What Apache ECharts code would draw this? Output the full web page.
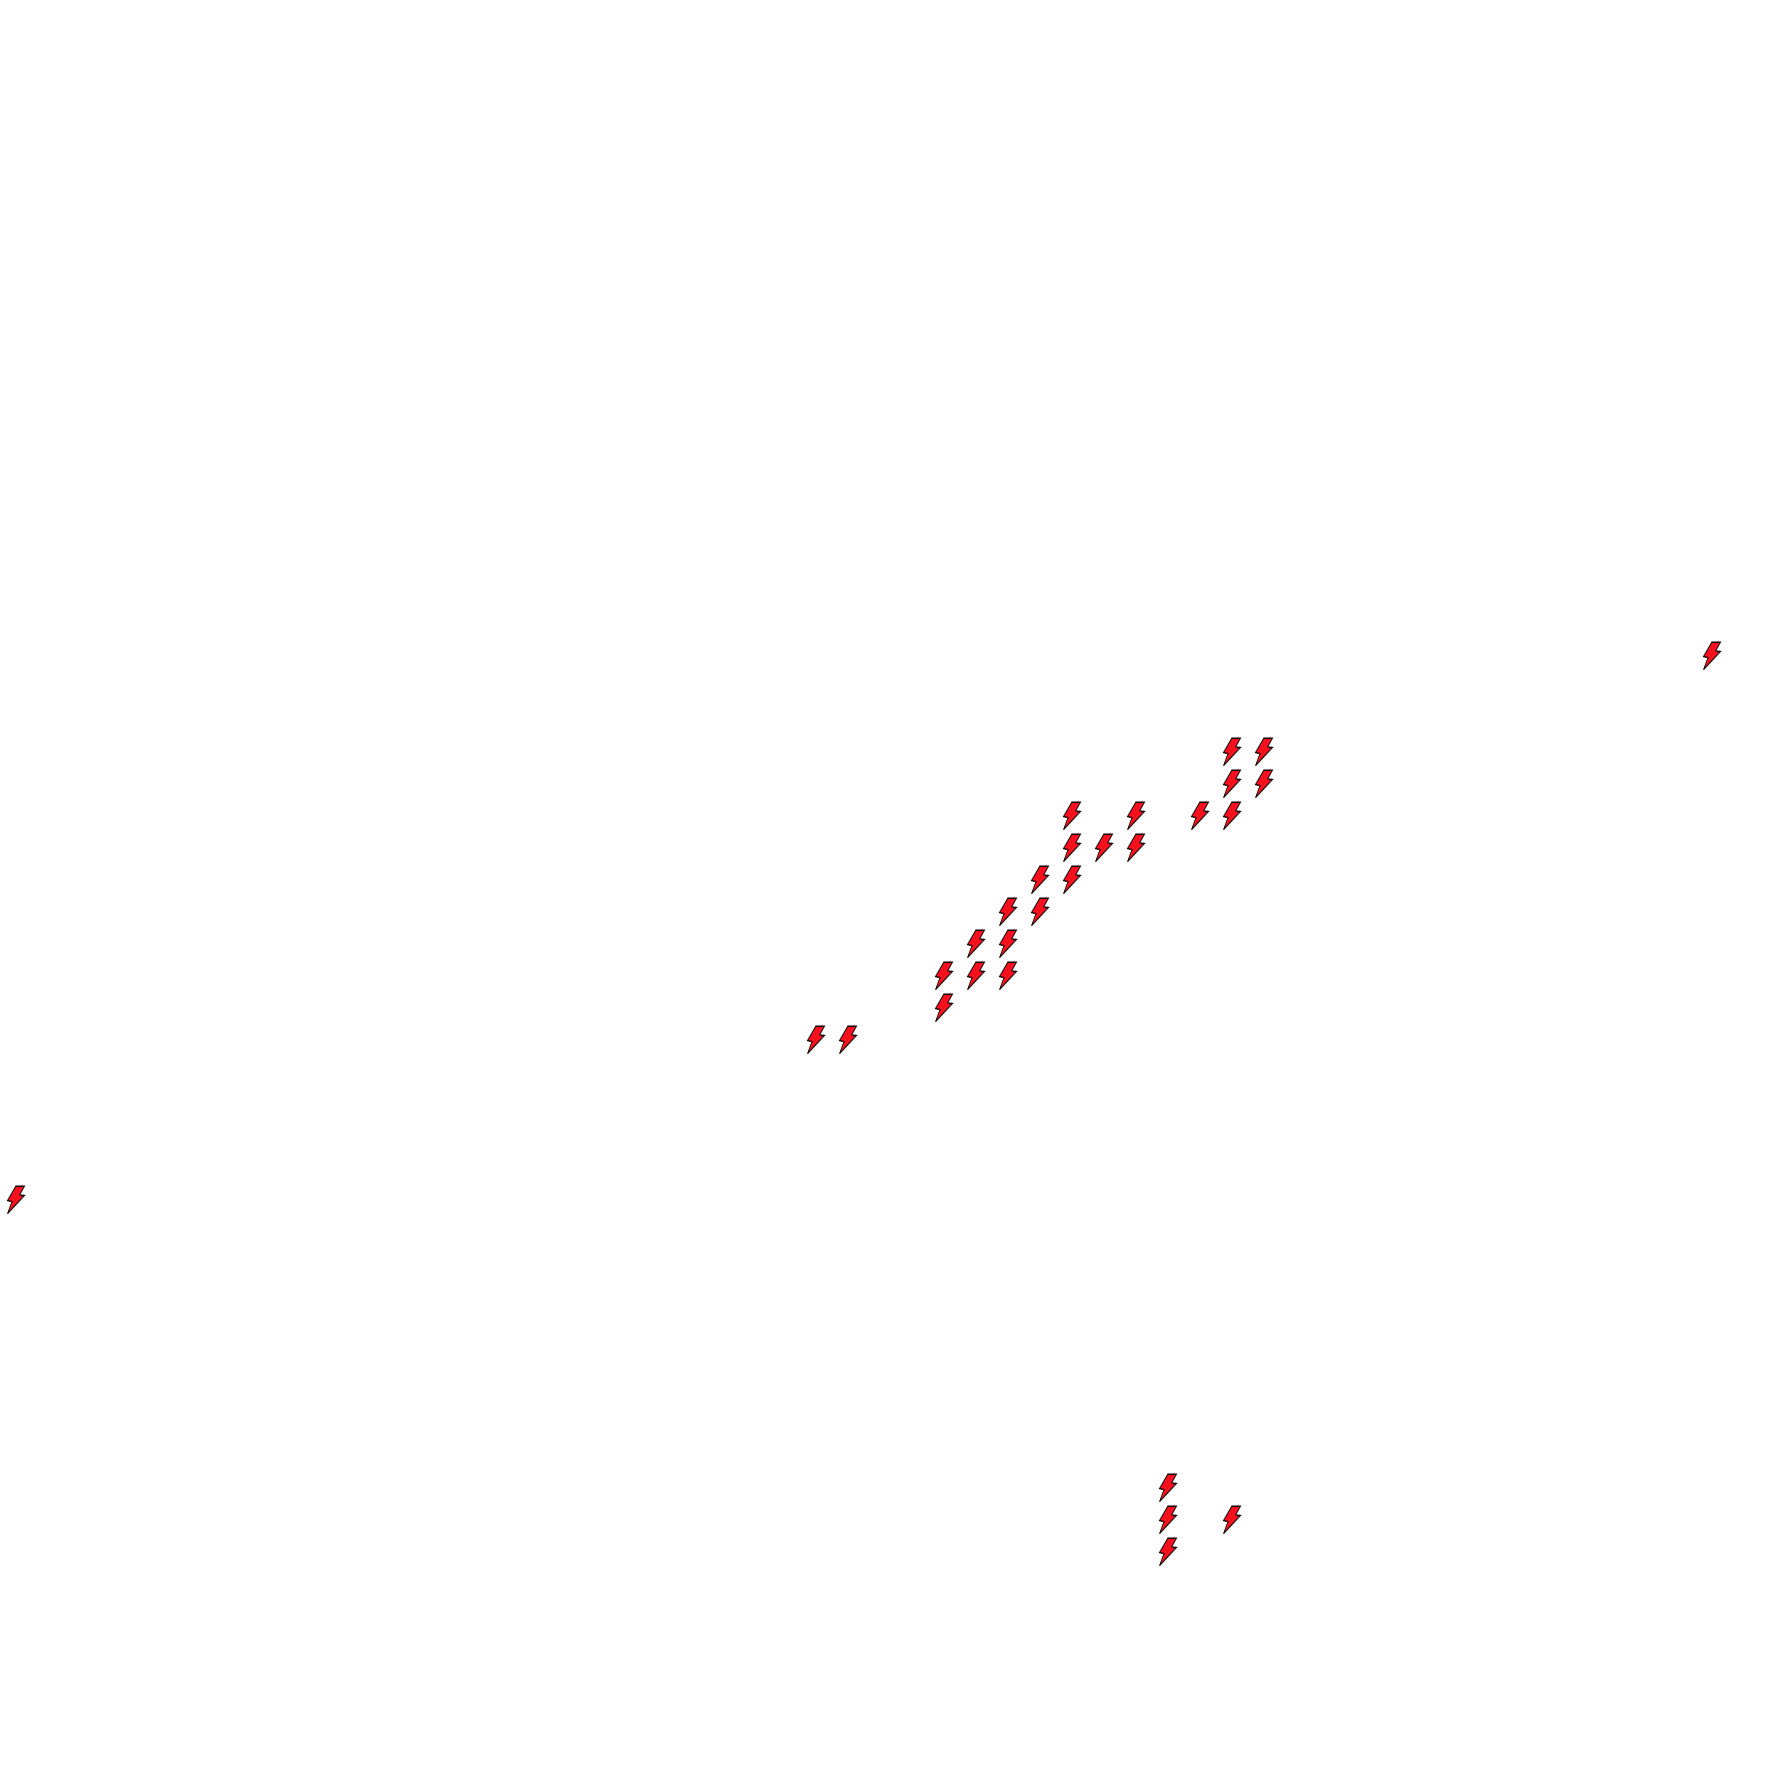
<!DOCTYPE html>
<html>
<head>
<meta charset="utf-8">
<title>Lightning markers</title>
<style>html,body{margin:0;padding:0;background:#fff}#c{width:1792px;height:1792px}</style>
<script src="https://cdn.jsdelivr.net/npm/echarts@6/dist/echarts.min.js"></script>
</head>
<body>
<div id="c"></div>
<script>
const columnCount = 56;
const rowCount = 56;
const pointColumns = [0, 53, 38, 39, 38, 39, 33, 35, 37, 38, 33, 34, 35, 32, 33, 31, 32, 30, 31, 29, 30, 31, 29, 25, 26, 36, 36, 36, 38];
const pointRows = [37, 20, 23, 23, 24, 24, 25, 25, 25, 25, 26, 26, 26, 27, 27, 28, 28, 29, 29, 30, 30, 30, 31, 32, 32, 46, 47, 48, 47];

const boltPath = 'path://M24,0 L49,0 L35,27 L49,29 L0,86 L13,48 L0,45 Z';
const seq = n => Array.from({length: n}, (_, i) => String(i));

const chart = echarts.init(document.getElementById('c'), null, {renderer: 'canvas'});
chart.setOption({
  animation: false,
  backgroundColor: '#ffffff',
  grid: {left: 0, right: 0, top: 0, bottom: 0},
  xAxis: {type: 'category', data: seq(columnCount), show: false, boundaryGap: true},
  yAxis: {type: 'category', data: seq(rowCount), show: false, boundaryGap: true, inverse: true},
  series: [{
    type: 'scatter',
    symbol: boltPath,
    symbolSize: [17, 27.5],
    symbolKeepAspect: false,
    itemStyle: {color: '#f5101f', borderColor: '#000000', borderWidth: 1, borderMiterLimit: 4, opacity: 1},
    data: pointColumns.map((c, i) => [String(c), String(pointRows[i])])
  }]
});
</script>
</body>
</html>
